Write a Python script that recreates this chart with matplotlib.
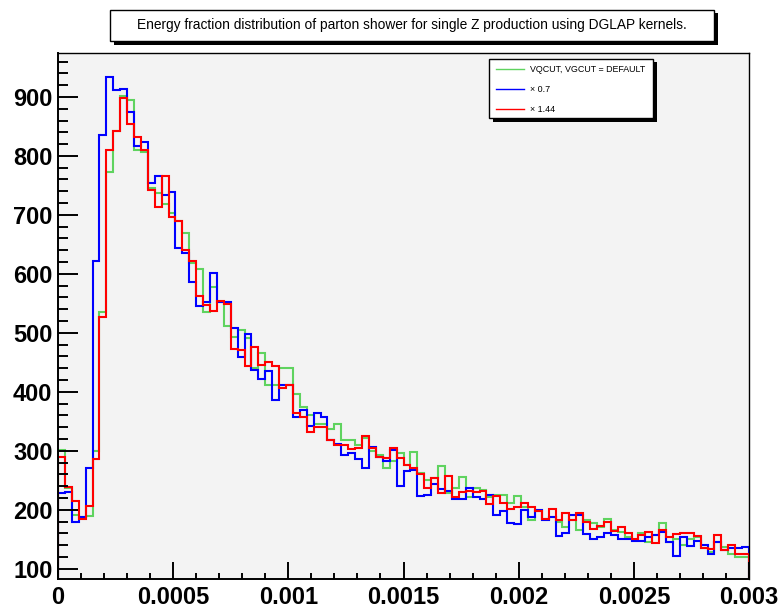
import numpy as np
import matplotlib
matplotlib.use('Agg')
import matplotlib.pyplot as plt
from matplotlib.patches import Rectangle
from matplotlib.ticker import MultipleLocator

# bin edges: 100 bins between 0 and 0.003
x_min, x_max, n_bins = 0.0, 0.003, 100

default_counts = [
    301, 236, 191, 188, 190, 300, 536, 773, 843, 901,
    894, 810, 807, 745, 737, 719, 704, 689, 669, 618,
    608, 535, 578, 553, 512, 493, 505, 491, 440, 466,
    411, 411, 440, 440, 397, 374, 360, 346, 345, 337,
    346, 318, 318, 310, 321, 299, 293, 271, 282, 296,
    275, 298, 262, 251, 253, 274, 228, 237, 256, 222,
    236, 233, 222, 225, 225, 211, 224, 205, 182, 198,
    185, 187, 180, 171, 182, 166, 183, 178, 170, 185,
    166, 163, 153, 149, 160, 146, 157, 177, 146, 150,
    140, 151, 153, 135, 129, 146, 137, 125, 120, 120,
]

x07_counts = [
    228, 230, 180, 188, 271, 621, 835, 933, 911, 914,
    875, 817, 824, 754, 766, 734, 738, 644, 635, 587,
    546, 552, 601, 553, 553, 508, 459, 498, 437, 421,
    436, 386, 411, 411, 358, 369, 342, 364, 358, 318,
    312, 292, 296, 286, 271, 307, 290, 283, 301, 240,
    265, 267, 223, 225, 244, 235, 232, 218, 219, 236,
    221, 218, 225, 191, 198, 177, 176, 200, 188, 200,
    183, 188, 156, 160, 191, 191, 159, 150, 153, 161,
    157, 150, 150, 147, 147, 153, 157, 163, 146, 121,
    153, 138, 147, 141, 125, 146, 131, 135, 135, 136,
]

x144_counts = [
    290, 239, 215, 184, 206, 286, 526, 810, 843, 898,
    854, 832, 810, 742, 714, 766, 697, 689, 640, 622,
    563, 547, 537, 554, 549, 472, 470, 444, 476, 446,
    451, 444, 406, 411, 364, 357, 332, 341, 340, 319,
    310, 310, 303, 305, 325, 304, 289, 287, 304, 287,
    276, 270, 260, 237, 253, 228, 258, 222, 230, 231,
    230, 231, 209, 224, 211, 202, 205, 212, 205, 197,
    184, 201, 183, 194, 183, 194, 180, 168, 172, 180,
    164, 171, 160, 150, 157, 163, 144, 166, 154, 159,
    161, 161, 155, 135, 133, 157, 131, 140, 125, 125,
]

labels = ['VQCUT, VGCUT = DEFAULT', '\u00d7 0.7', '\u00d7 1.44']
colors = ['#5fd35f', '#0000ff', '#ff0000']
title = 'Energy fraction distribution of parton shower for single Z production using DGLAP kernels.'

W, H = 782, 610
fig = plt.figure(figsize=(W / 100, H / 100), dpi=100)
fig.patch.set_facecolor('white')

def fx(px):
    return px / W

def fy(py):
    return 1 - py / H

ax = fig.add_axes([fx(58), fy(579), fx(749) - fx(58), fy(52.7) - fy(579)])
ax.set_facecolor('#f3f3f3')

edges = np.linspace(x_min, x_max, n_bins + 1)
for counts, c in zip([default_counts, x07_counts, x144_counts], colors):
    ax.stairs(counts, edges, color=c, lw=1.5)

ax.set_xlim(x_min, x_max)
ax.set_ylim(82.5, 975)

ax.xaxis.set_major_locator(MultipleLocator(0.0005))
ax.xaxis.set_minor_locator(MultipleLocator(0.0001))
ax.yaxis.set_major_locator(MultipleLocator(100))
ax.yaxis.set_minor_locator(MultipleLocator(20))
ax.set_xticks([0, 0.0005, 0.001, 0.0015, 0.002, 0.0025, 0.003])
ax.set_xticklabels(['0', '0.0005', '0.001', '0.0015', '0.002', '0.0025', '0.003'])

ax.tick_params(axis='both', which='both', direction='in', top=False, right=False, width=1.4)
ax.tick_params(axis='y', which='major', length=14.5, pad=4)
ax.tick_params(axis='y', which='minor', length=7.2)
ax.tick_params(axis='x', which='major', length=12, pad=5)
ax.tick_params(axis='x', which='minor', length=4.5)
for lab in ax.get_xticklabels() + ax.get_yticklabels():
    lab.set_fontfamily('Liberation Sans')
    lab.set_fontweight('bold')
    lab.set_fontsize(17)
for s in ax.spines.values():
    s.set_linewidth(1.4)
ax.spines['top'].set_linewidth(1.0)
ax.spines['right'].set_linewidth(1.0)

# boxes with a drop shadow, ROOT style
def shadow_box(x0, y0, x1, y1, off=3.5):
    fig.patches.append(Rectangle((fx(x0 + off), fy(y1 + off)), fx(x1 - x0), fy(y0) - fy(y1),
                                 transform=fig.transFigure, facecolor='black', edgecolor='none', zorder=5))
    fig.patches.append(Rectangle((fx(x0), fy(y1)), fx(x1 - x0), fy(y0) - fy(y1),
                                 transform=fig.transFigure, facecolor='white', edgecolor='black',
                                 lw=1.0, zorder=6))

shadow_box(110, 10, 714, 41)
fig.text(fx(412), fy(25.5), title, ha='center', va='center', fontsize=9.9,
         family='Liberation Sans', zorder=7)

# legend
shadow_box(489, 59, 653, 118)
leg_y = [69.3, 89.3, 109.3]
for lab, c, yy in zip(labels, colors, leg_y):
    fig.lines.append(plt.Line2D([fx(496), fx(524)], [fy(yy), fy(yy)], transform=fig.transFigure,
                                color=c, lw=1.0, zorder=7))
    fig.text(fx(530), fy(yy), lab, ha='left', va='center', fontsize=6.4,
             family='Liberation Sans', zorder=7)

fig.savefig('out.png', dpi=100)
